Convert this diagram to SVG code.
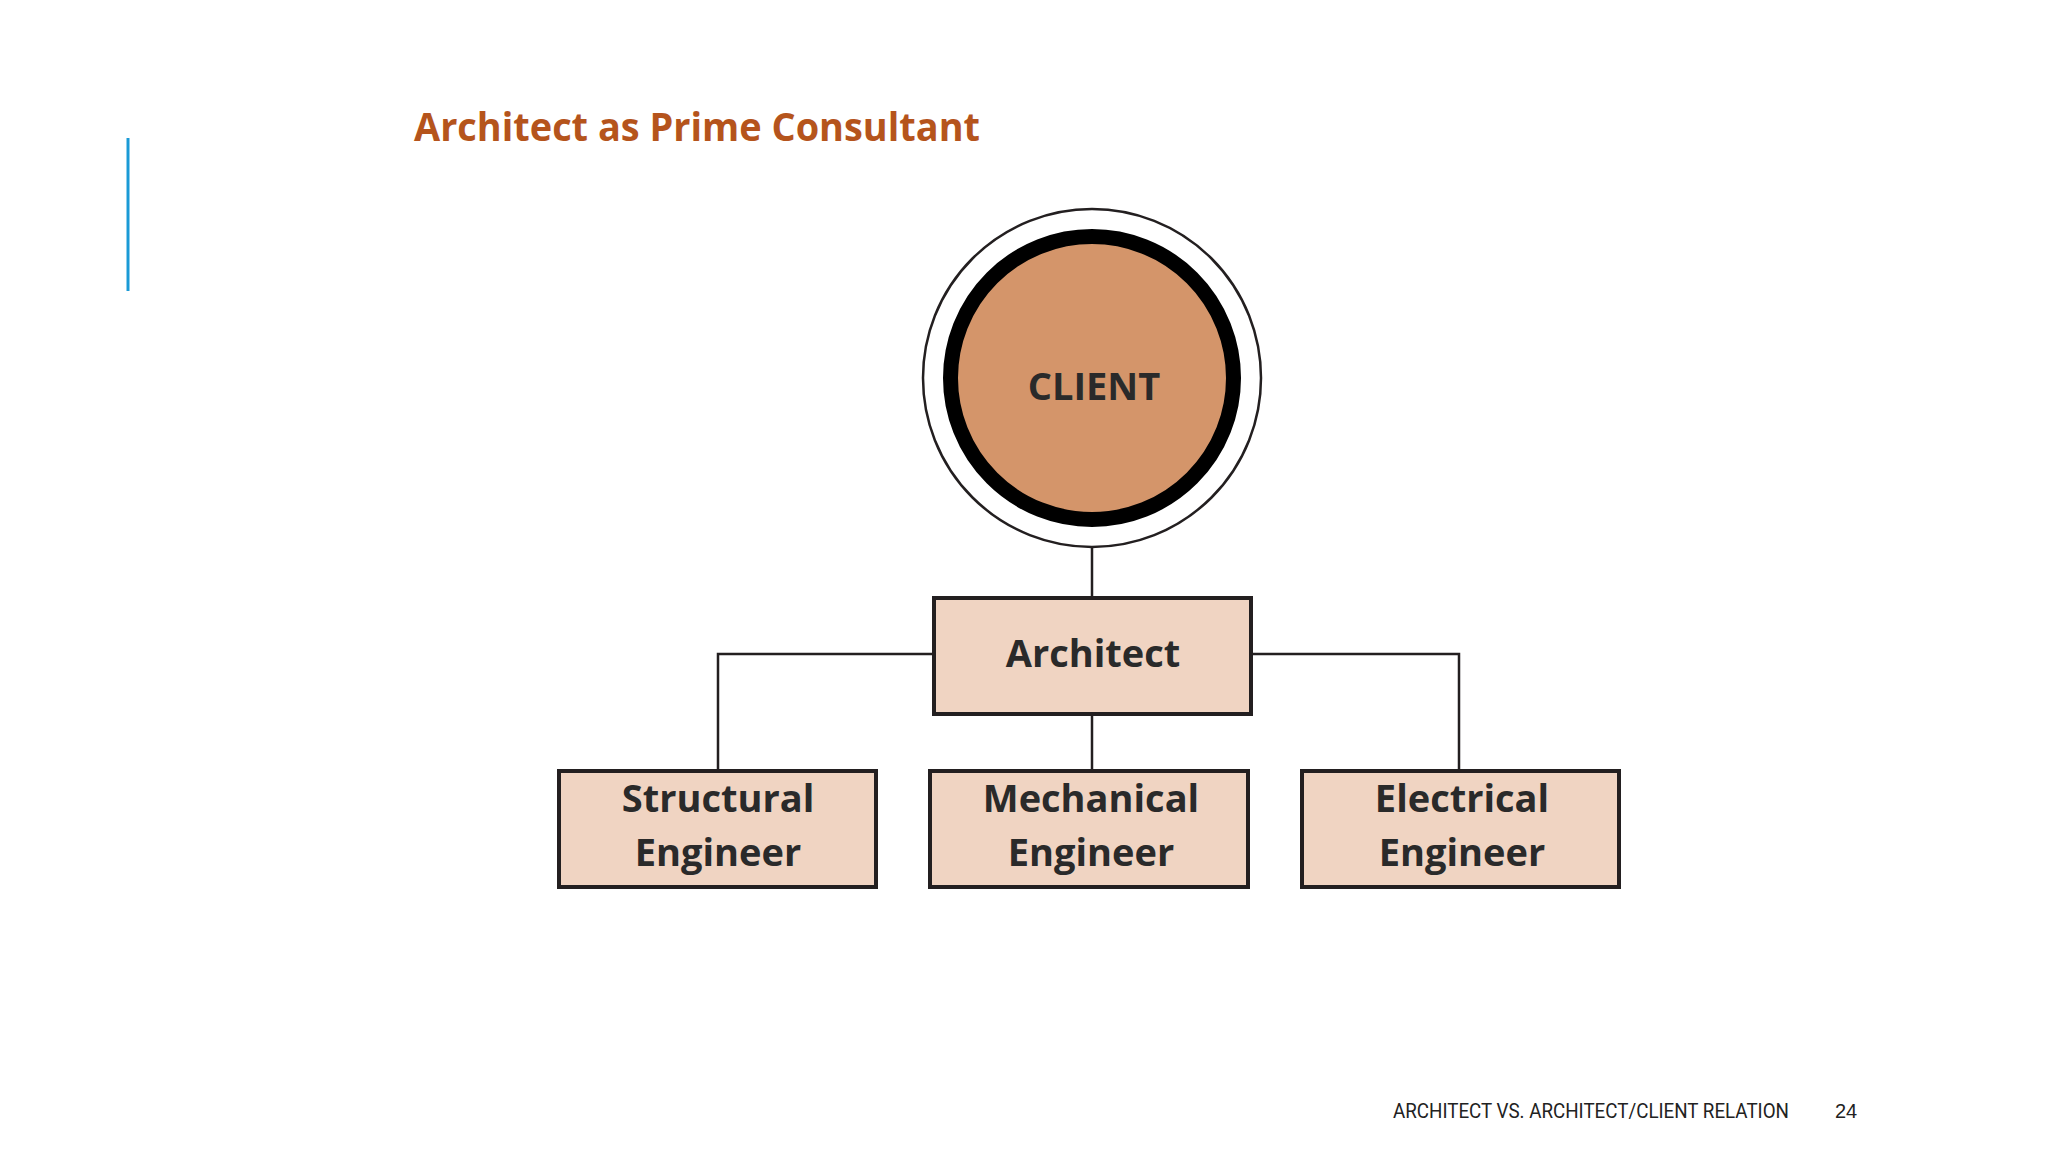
<svg xmlns="http://www.w3.org/2000/svg" width="2048" height="1152" viewBox="0 0 2048 1152">
<style>
.box{fill:#f0d4c2;stroke:#231f20;stroke-width:4}
.lbl{font-family:"Open Sans","DejaVu Sans",sans-serif;font-weight:bold;font-size:38px;fill:#2a2a2a;text-anchor:middle}
.con{stroke:#231f20;stroke-width:2.5;fill:none}
</style>
<rect width="2048" height="1152" fill="#ffffff"/>
<line x1="128" y1="138" x2="128" y2="291" stroke="#1a9ad6" stroke-width="3"/>
<text x="414" y="141" font-family="Open Sans, DejaVu Sans, sans-serif" font-weight="bold" font-size="40" fill="#b5541c" textLength="566" lengthAdjust="spacingAndGlyphs">Architect as Prime Consultant</text>
<g id="connectors">
<line class="con" x1="1092" y1="547" x2="1092" y2="598"/>
<line class="con" x1="1092" y1="714" x2="1092" y2="771"/>
<polyline class="con" points="934,654 718,654 718,771"/>
<polyline class="con" points="1251,654 1459,654 1459,771"/>
</g>
<g id="client">
<circle cx="1092" cy="378" r="169" fill="#ffffff" stroke="#231f20" stroke-width="2.5"/>
<circle cx="1092" cy="378" r="141.5" fill="#d4956a" stroke="#000" stroke-width="15"/>
<text class="lbl" x="1094" y="400" font-size="40">CLIENT</text>
</g>
<g id="architect">
<rect class="box" x="934" y="598" width="317" height="116"/>
<text class="lbl" x="1093" y="667">Architect</text>
</g>
<g id="structural">
<rect class="box" x="559" y="771" width="317" height="116"/>
<text class="lbl" x="718" y="812">Structural</text>
<text class="lbl" x="718" y="866">Engineer</text>
</g>
<g id="mechanical">
<rect class="box" x="930" y="771" width="318" height="116"/>
<text class="lbl" x="1091" y="812">Mechanical</text>
<text class="lbl" x="1091" y="866">Engineer</text>
</g>
<g id="electrical">
<rect class="box" x="1302" y="771" width="317" height="116"/>
<text class="lbl" x="1462" y="812">Electrical</text>
<text class="lbl" x="1462" y="866">Engineer</text>
</g>
<text x="1393" y="1118" font-family="Liberation Sans Narrow, Roboto, sans-serif" font-size="20" fill="#222" textLength="396" lengthAdjust="spacingAndGlyphs">ARCHITECT VS. ARCHITECT/CLIENT RELATION</text>
<text x="1835" y="1118" font-family="Liberation Sans, sans-serif" font-size="20" fill="#222">24</text>
</svg>
